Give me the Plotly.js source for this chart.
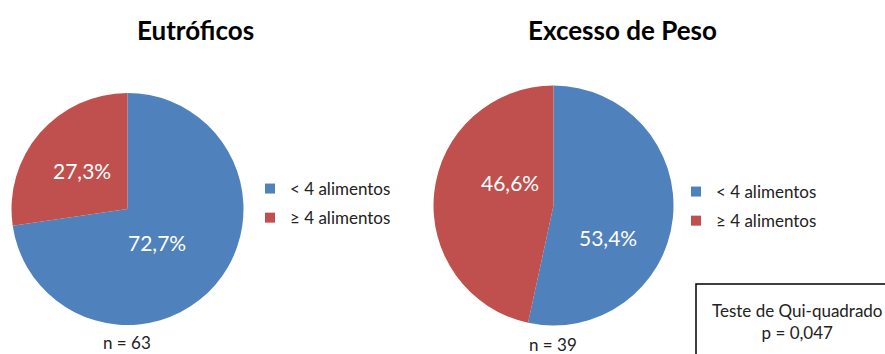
<!DOCTYPE html>
<html><head><meta charset="utf-8">
<script src="https://cdn.plot.ly/plotly-3.0.1.min.js"></script>
<style>html,body{margin:0;padding:0;background:#fff}#c{width:885px;height:354px}</style>
</head><body><div id="c"></div>
<script>
const categories = ['< 4 alimentos', '≥ 4 alimentos'];
const eutroficosValues = [72.7, 27.3];
const eutroficosText = ['72,7%', '27,3%'];
const excessoValues = [53.4, 46.6];
const excessoText = ['53,4%', '46,6%'];
const titles = ['Eutróficos', 'Excesso de Peso'];
const nLabels = ['n = 63', 'n = 39'];
const testLabel = 'Teste de Qui-quadrado<br>p = 0,047';
const colors = ['#4F81BD', '#C0504D'];
const FONT = 'Lato, "Open Sans", sans-serif';

const W = 885, H = 354;
const px = x => x / W, py = y => 1 - y / H;
function dom(cx, cy, r) {
  return {x: [(cx - r) / W, (cx + r) / W], y: [1 - (cy + r) / H, 1 - (cy - r) / H]};
}
const base = {
  type: 'pie', labels: categories, sort: false, direction: 'clockwise', rotation: 0,
  marker: {colors: colors, line: {width: 0}},
  textinfo: 'none', hoverinfo: 'none', showlegend: false
};
const traces = [
  Object.assign({}, base, {values: eutroficosValues, domain: dom(127.5, 209, 116)}),
  Object.assign({}, base, {values: excessoValues, domain: dom(553.5, 205.5, 120)})
];
// legend entries (one per category, per chart)
['legend', 'legend2'].forEach((lg, k) => {
  categories.forEach((c, i) => {
    traces.push({type: 'scatter', mode: 'markers', x: [null], y: [null], name: c,
      marker: {symbol: 'square', size: 10, color: colors[i]},
      legend: lg, legendgroup: lg + i, showlegend: true, hoverinfo: 'none'});
  });
});

// label positions inside slices (layout only)
const labelPos = [[[157, 243], [82, 170]], [[608, 237], [510, 183]]];
const texts = [eutroficosText, excessoText];
const ann = [];
texts.forEach((arr, k) => arr.forEach((t, i) => ann.push({
  text: t, x: px(labelPos[k][i][0]), y: py(labelPos[k][i][1]), xref: 'paper', yref: 'paper',
  xanchor: 'center', yanchor: 'middle', showarrow: false, font: {family: FONT, size: 21, color: '#fff'}
})));
const A = (text, x, y, size, extra) => Object.assign({text, x: px(x), y: py(y), xref: 'paper', yref: 'paper',
  xanchor: 'center', yanchor: 'middle', showarrow: false, font: {family: FONT, size, color: '#222'}}, extra || {});
ann.push(A('<b>' + titles[0] + '</b>', 195, 30, 26, {font: {family: FONT, size: 26, color: '#000'}}));
ann.push(A('<b>' + titles[1] + '</b>', 622, 30, 26, {font: {family: FONT, size: 26, color: '#000'}}));
ann.push(A(nLabels[0], 127, 342, 17));
ann.push(A(nLabels[1], 553, 344, 17));
ann.push(A(testLabel, 797, 321, 17));

const legStyle = {font: {family: FONT, size: 17, color: '#222'}, bgcolor: 'rgba(0,0,0,0)', xanchor: 'left', yanchor: 'top', itemwidth: 30, tracegroupgap: 4};
const hid = {visible: false, range: [0, 1]};
const layout = {
  width: W, height: H, margin: {l: 0, r: 0, t: 0, b: 0},
  paper_bgcolor: '#fff', plot_bgcolor: 'rgba(0,0,0,0)', showlegend: true,
  xaxis: hid, yaxis: hid,
  legend: Object.assign({x: px(250), y: py(171)}, legStyle),
  legend2: Object.assign({x: px(676), y: py(174)}, legStyle),
  annotations: ann,
  shapes: [
    {type: 'rect', xref: 'paper', yref: 'paper', x0: px(696), x1: px(892), y0: -0.05, y1: py(284), line: {color: '#000', width: 1.5}, fillcolor: 'rgba(0,0,0,0)'}
  ]
};
Plotly.newPlot('c', traces, layout, {displayModeBar: false, staticPlot: true});
</script></body></html>
